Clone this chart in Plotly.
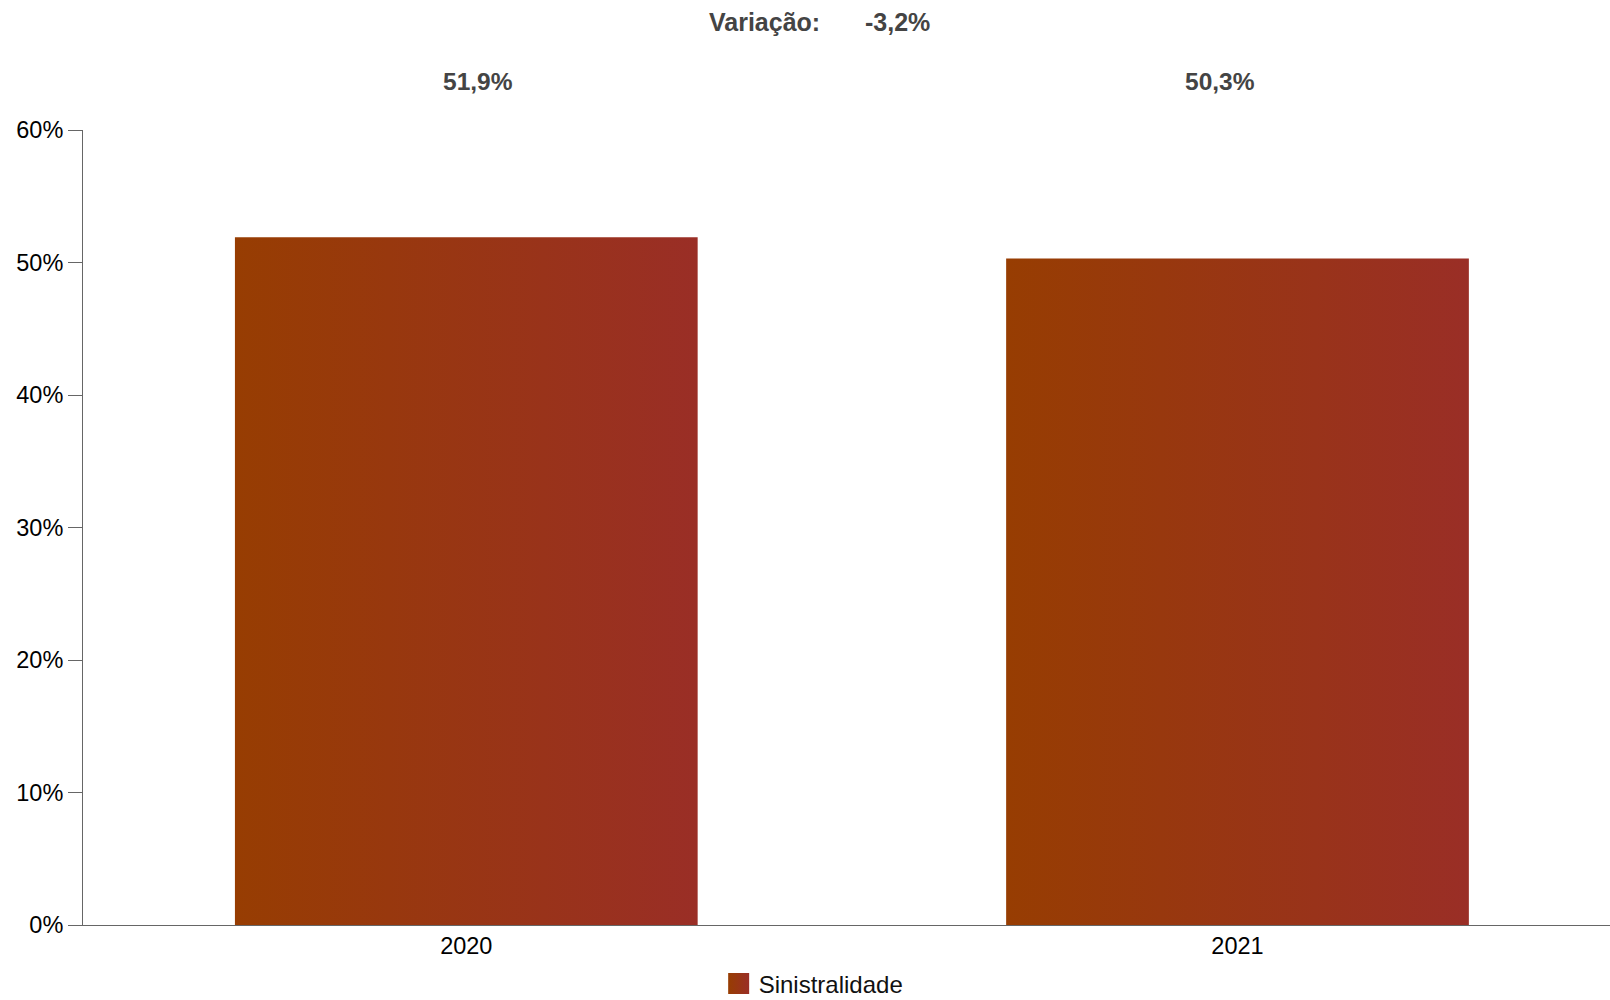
import plotly.graph_objects as go

# ---- data ----
categories = ["2020", "2021"]
sinistralidade = [51.9, 50.3]          # %
variacao = -3.2                        # %
series_name = "Sinistralidade"
y_tick_values = [0, 10, 20, 30, 40, 50, 60]
y_tick_labels = ["0%", "10%", "20%", "30%", "40%", "50%", "60%"]

# ---- style ----
FONT = "Liberation Sans, Arial, sans-serif"
GRAD_LEFT = "#973D02"
GRAD_RIGHT = "#9A2E26"
SOLID = "#98361A"
LABEL_GRAY = "#444444"


def pt(v):
    return f"{v:.1f}".replace(".", ",") + "%"


fig = go.Figure()
fig.add_trace(go.Bar(
    x=categories,
    y=sinistralidade,
    name=series_name,
    width=0.6,
    marker=dict(color=SOLID, line=dict(width=0)),
    showlegend=True,
    hoverinfo="x+y",
))

annotations = []
label_shifts = [12, -18]
for i, (v, sh) in enumerate(zip(sinistralidade, label_shifts)):
    annotations.append(dict(
        x=i, xref="x", y=1.0604, yref="paper", yanchor="middle",
        text=f"<b>{pt(v)}</b>", showarrow=False, xshift=sh,
        font=dict(family=FONT, size=24.5, color=LABEL_GRAY),
    ))
annotations.append(dict(
    x=0.4466, xref="paper", y=1.1358, yref="paper", yanchor="middle",
    text="<b>Variação:</b>", showarrow=False,
    font=dict(family=FONT, size=25, color=LABEL_GRAY),
))
annotations.append(dict(
    x=0.5337, xref="paper", y=1.1358, yref="paper", yanchor="middle",
    text=f"<b>{pt(variacao)}</b>", showarrow=False,
    font=dict(family=FONT, size=25, color=LABEL_GRAY),
))

fig.update_layout(
    width=1610, height=1000,
    margin=dict(l=83, r=0, t=130, b=75, pad=0),
    paper_bgcolor="white", plot_bgcolor="white",
    font=dict(family=FONT, size=23.5, color="#000000"),
    separators=",.",
    bargap=0.4,
    showlegend=True,
    legend=dict(
        orientation="h", x=0.4785, xanchor="center",
        yref="container", y=0.016, yanchor="middle",
        font=dict(family=FONT, size=24, color="#111111"),
        bgcolor="rgba(0,0,0,0)", borderwidth=0,
    ),
    xaxis=dict(
        type="category", range=[-0.497, 1.483],
        showline=True, linecolor="#666666", linewidth=1,
        ticks="", showgrid=False, zeroline=False,
        tickfont=dict(family=FONT, size=23.5, color="#000000"),
    ),
    yaxis=dict(
        range=[0, 60], tickvals=y_tick_values, ticktext=y_tick_labels,
        showline=True, linecolor="#666666", linewidth=1,
        ticks="outside", ticklen=14, tickcolor="#666666", tickwidth=1,
        showgrid=False, zeroline=False,
        tickfont=dict(family=FONT, size=23.5, color="#000000"),
    ),
    annotations=annotations,
)

post_script = """
document.body.style.margin = '0';
document.body.style.overflow = 'hidden';
var gd = document.getElementById('{plot_id}');
function applyGrad() {
  var svg = gd.querySelector('svg.main-svg');
  if (!svg) return;
  var defs = svg.querySelector('defs');
  var ns = 'http://www.w3.org/2000/svg';
  if (!document.getElementById('barGradSin')) {
    var lg = document.createElementNS(ns, 'linearGradient');
    lg.setAttribute('id', 'barGradSin');
    lg.setAttribute('x1', '0'); lg.setAttribute('y1', '0');
    lg.setAttribute('x2', '1'); lg.setAttribute('y2', '0');
    var s1 = document.createElementNS(ns, 'stop');
    s1.setAttribute('offset', '0'); s1.setAttribute('stop-color', '""" + GRAD_LEFT + """');
    var s2 = document.createElementNS(ns, 'stop');
    s2.setAttribute('offset', '1'); s2.setAttribute('stop-color', '""" + GRAD_RIGHT + """');
    lg.appendChild(s1); lg.appendChild(s2);
    defs.appendChild(lg);
  }
  gd.querySelectorAll('.barlayer .point path').forEach(function (p) {
    p.style.fill = 'url(#barGradSin)';
  });
  gd.querySelectorAll('.legend .legendpoints path').forEach(function (p) {
    p.style.fill = 'url(#barGradSin)';
    p.setAttribute('d', 'M10.5,10.5H-10.5V-10.5H10.5Z');
  });
}
applyGrad();
gd.on('plotly_afterplot', applyGrad);
"""

fig.write_html("out.html", post_script=post_script,
               config={"displayModeBar": False})
